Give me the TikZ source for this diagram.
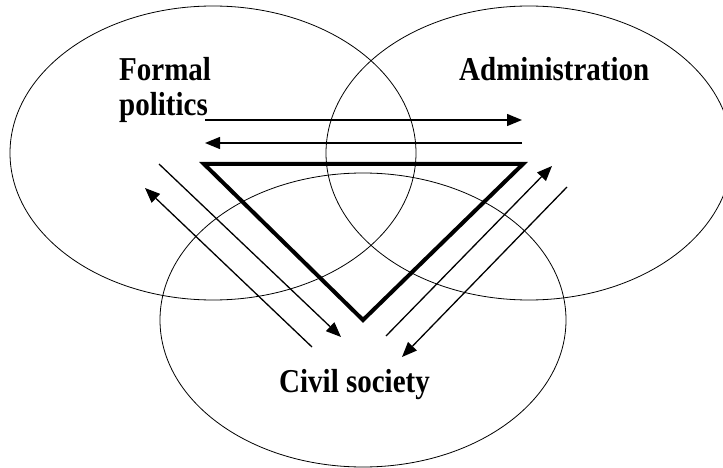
\documentclass[tikz,border=0pt]{standalone}
\usepackage{fontspec}
\setmainfont{Liberation Serif}
\usetikzlibrary{arrows.meta}
\tikzset{
  circ/.style={draw, line width=0.8pt},
  flow/.style={line width=1.3pt, -{Triangle[length=15pt, width=12pt]}},
  tri/.style={draw, line width=4pt, line join=miter},
  lab/.style={font=\bfseries\fontsize{29}{30.5}\selectfont, inner sep=0pt, anchor=base west, align=left, yscale=1.15, transform shape}
}
\begin{document}
\begin{tikzpicture}[x=1pt, y=-1pt]
\useasboundingbox (0,0) rectangle (723,468);
\clip (0,0) rectangle (723,468);
% circles
\draw[circ] (213,153) ellipse [x radius=203, y radius=147];
\draw[circ] (529,153) ellipse [x radius=203, y radius=147];
\draw[circ] (363,320) ellipse [x radius=203, y radius=147];
% labels
\node[lab] (fp) at (119,116) {Formal\\politics};
\node[lab] (ad) at (459,81) {Administration};
\node[lab] (cs) at (279,392) {Civil society};
% triangle
\coordinate (t1) at (204,164);
\coordinate (t2) at (523,164);
\coordinate (t3) at (363,320);
\draw[tri] (t1) -- (t2) -- (t3) -- cycle;
% arrow end points
\coordinate (a1s) at (205,120); \coordinate (a1e) at (522,120);
\coordinate (a2s) at (522,143); \coordinate (a2e) at (205,143);
\coordinate (l1s) at (159,164); \coordinate (l1e) at (341,337);
\coordinate (l2s) at (312,347); \coordinate (l2e) at (145,188);
\coordinate (r1s) at (386,336); \coordinate (r1e) at (552,166);
\coordinate (r2s) at (567,187); \coordinate (r2e) at (402,357);
\draw[flow] (a1s) -- (a1e);
\draw[flow] (a2s) -- (a2e);
\draw[flow] (l1s) -- (l1e);
\draw[flow] (l2s) -- (l2e);
\draw[flow] (r1s) -- (r1e);
\draw[flow] (r2s) -- (r2e);
\end{tikzpicture}
\end{document}
